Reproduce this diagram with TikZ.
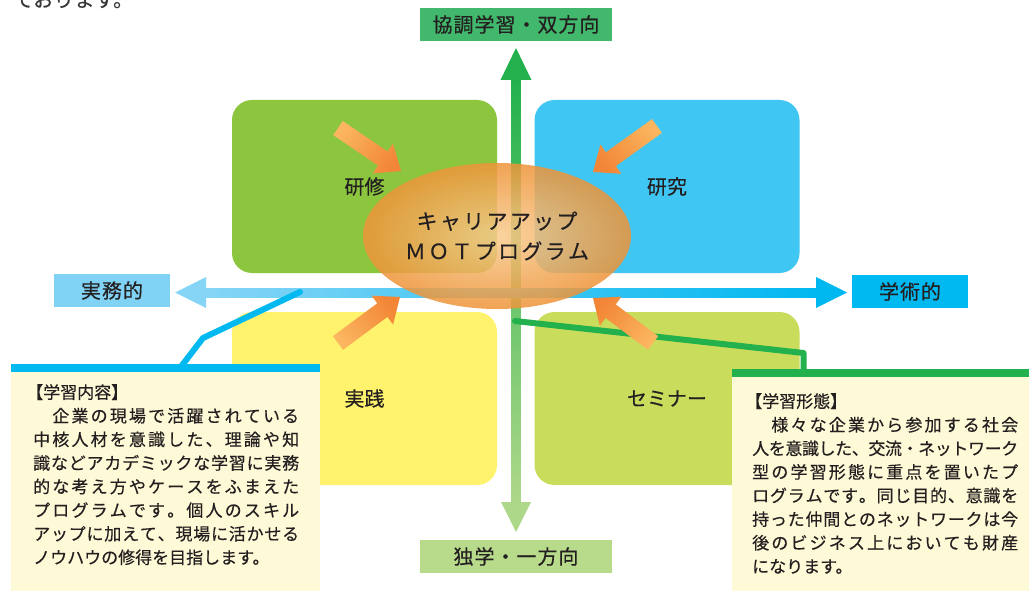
\documentclass[tikz,border=0pt]{standalone}
\usepackage{fontspec}
\setmainfont{Noto Sans CJK JP}[FakeBold=0.4]
\usetikzlibrary{calc,shapes.geometric}
\definecolor{txt}{HTML}{231F20}
\definecolor{labGreen}{HTML}{41B86B}
\definecolor{labLGreen}{HTML}{B7DA8B}
\definecolor{labLBlue}{HTML}{80D3F5}
\definecolor{labBlue}{HTML}{00B9F0}
\definecolor{axGtop}{HTML}{22B14C}
\definecolor{axGbot}{HTML}{AED889}
\definecolor{axBleft}{HTML}{86D5F6}
\definecolor{axBright}{HTML}{00B8F0}
\definecolor{boxGreen}{HTML}{8CC63F}
\definecolor{boxBlue}{HTML}{40C6F2}
\definecolor{boxYellow}{HTML}{FFF36E}
\definecolor{boxLime}{HTML}{C9DC5C}
\definecolor{oTail}{HTML}{FBB65F}
\definecolor{oTip}{HTML}{F28636}
\definecolor{eIn}{HTML}{F9CC8F}
\definecolor{eOut}{HTML}{EE9438}
\definecolor{cream}{HTML}{FEF9D6}
\definecolor{barCyan}{HTML}{00B9F0}
\definecolor{barGreen}{HTML}{22B14C}
% justified line of CJK text
\newcommand\jl[1]{\hbox to 266pt{\jlfirst#1\relax}}
\def\jlfirst#1{#1\jlrest}
\def\jlrest#1{\ifx\relax#1\else\hskip0pt plus1fil minus0.6pt #1\expandafter\jlrest\fi}
% letter spaced text
\newcommand\lsp[2]{\def\lspk{#1}\lspfirst#2\relax}
\def\lspfirst#1{#1\lsprest}
\def\lsprest#1{\ifx\relax#1\else\kern\lspk #1\expandafter\lsprest\fi}
% block arrow
\newcommand\blockarrow[3]{%
  \coordinate (#1h) at ($(#2)!22pt!(#1)$);
  \shade[top color=oTip, bottom color=oTail, shading angle=#3]
    ($(#1)!8.5pt!90:(#2)$) -- ($(#1h)!8.5pt!90:(#2)$) -- ($(#1h)!18pt!90:(#2)$)
    -- (#2) -- ($(#1h)!18pt!-90:(#2)$) -- ($(#1h)!8.5pt!-90:(#2)$)
    -- ($(#1)!8.5pt!-90:(#2)$) -- cycle;}
\begin{document}
\begin{tikzpicture}[x=1pt,y=-1pt,
  lab/.style={minimum width=#1, minimum height=33pt, inner sep=0pt, text=txt,
    font=\fontsize{20pt}{24pt}\selectfont},
  quad/.style={rounded corners=20pt, minimum width=265pt, minimum height=173pt,
    inner sep=0pt, text=txt, font=\fontsize{20pt}{24pt}\selectfont},
  ctext/.style={anchor=north west, align=left, inner sep=0pt, text=txt,
    font=\fontsize{17pt}{23.6pt}\selectfont},
  conn/.style={line width=6pt, line cap=round, line join=round}]
\useasboundingbox (0,0) rectangle (1029,591);
\fill[white] (0,0) rectangle (1029,591);
% cut-off text at top
\node[anchor=base west, inner sep=0pt, text=black!78, font=\fontsize{20.5pt}{24pt}\selectfont] (toptext) at (13,7) {ております。};
% axis labels
\node[lab=192pt, fill=labGreen] (ltop) at (516,24.5) {\lsp{1pt}{協調学習・双方向}};
\node[lab=192pt, fill=labLGreen] (lbot) at (516,556.5) {\lsp{1pt}{独学・一方向}};
\node[lab=116pt, fill=labLBlue] (lleft) at (112,290.5) {\lsp{1pt}{実務的}};
\node[lab=116pt, fill=labBlue] (lright) at (910,291.5) {\lsp{1pt}{学術的}};
% quadrant boxes
\node[quad, fill=boxGreen] (qtl) at (364.5,186.5) {研修};
\node[quad, fill=boxBlue] (qtr) at (667,186.5) {研究};
\node[quad, fill=boxYellow] (qbl) at (364.5,398.5) {実践};
\node[quad, fill=boxLime] (qbr) at (667,398.5) {セミナー};
% vertical axis
\coordinate (vtop) at (516,48);
\coordinate (vbot) at (516,532);
\shade[top color=axGtop, bottom color=axGbot] (511.5,78) rectangle (520.5,504);
\fill[axGtop] (500.5,80) -- (vtop) -- (531.5,80) -- cycle;
\fill[axGbot] (501,502) -- (vbot) -- (531,502) -- cycle;
% horizontal axis
\coordinate (hleft) at (175,292.5);
\coordinate (hright) at (847,292.5);
\shade[left color=axBleft, right color=axBright] (203,288) rectangle (818,297);
\fill[axBleft] (206,277) -- (hleft) -- (206,308) -- cycle;
\fill[axBright] (816,277) -- (hright) -- (816,308) -- cycle;
% connectors to the notes
\coordinate (c1a) at (300,292);
\coordinate (c1b) at (203,338);
\coordinate (c1c) at (180,368);
\coordinate (c2a) at (515,321);
\coordinate (c2b) at (803.5,353);
\coordinate (c2c) at (803.5,373);
\draw[conn, barCyan] (c1a) -- (c1b) -- (c1c);
\draw[conn, barGreen] (c2a) -- (c2b) -- (c2c);
% orange block arrows
\coordinate (a1) at (338,128); \coordinate (b1) at (401,171);
\coordinate (a2) at (657,126); \coordinate (b2) at (593,172);
\coordinate (a3) at (338,343); \coordinate (b3) at (400,297);
\coordinate (a4) at (653,343); \coordinate (b4) at (593,298);
\blockarrow{a1}{b1}{-124.3}
\blockarrow{a2}{b2}{126.3}
\blockarrow{a3}{b3}{-53.4}
\blockarrow{a4}{b4}{53.1}
% central ellipse
\node[ellipse, minimum width=268pt, minimum height=146pt, inner sep=0pt,
  inner color=eIn, outer color=eOut, fill opacity=0.85, text opacity=1,
  text=txt, align=center, font=\fontsize{21pt}{30pt}\selectfont] (ell) at (497,236)
  {\lsp{2.3pt}{キャリアアップ}\\\lsp{2.3pt}{ＭＯＴプログラム}};
% left note
\fill[cream] (11,368) rectangle (320,595);
\draw[barCyan, line width=8pt] (11,368) -- (320,368);
\node[ctext] (ltext) at (33,384) {\hspace*{-7pt}【学習内容】\\
\jl{　企業の現場で活躍されている}\\
\jl{中核人材を意識した、理論や知}\\
\jl{識などアカデミックな学習に実務}\\
\jl{的な考え方やケースをふまえた}\\
\jl{プログラムです。個人のスキル}\\
\jl{アップに加えて、現場に活かせる}\\
ノウハウの修得を目指します。};
% right note
\fill[cream] (732,373) rectangle (1029,595);
\draw[barGreen, line width=8pt] (732,373) -- (1029,373);
\node[ctext] (rtext) at (752,393) {\hspace*{-7pt}【学習形態】\\
\jl{　様々な企業から参加する社会}\\
\jl{人を意識した、交流・ネットワーク}\\
\jl{型の学習形態に重点を置いたプ}\\
\jl{ログラムです。同じ目的、意識を}\\
\jl{持った仲間とのネットワークは今}\\
\jl{後のビジネス上においても財産}\\
になります。};
\end{tikzpicture}
\end{document}
